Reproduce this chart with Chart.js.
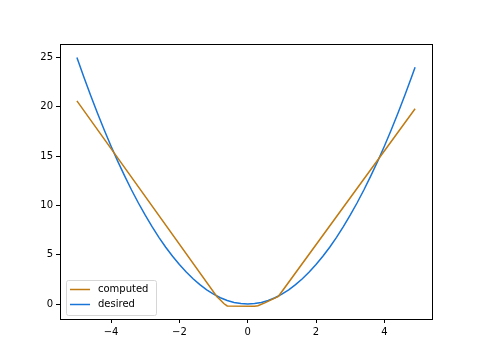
<!DOCTYPE html>
<html>
<head>
<meta charset="utf-8">
<script src="https://cdn.jsdelivr.net/npm/chart.js@4/dist/chart.umd.min.js"></script>
<style>
html,body{margin:0;padding:0;background:#fff;}
#wrap{width:480px;height:360px;}
</style>
</head>
<body>
<div id="wrap"><canvas id="c" width="480" height="360"></canvas></div>
<script>
const desiredX = [-5,-4.8,-4.6,-4.4,-4.2,-4,-3.8,-3.6,-3.4,-3.2,-3,-2.8,-2.6,-2.4,-2.2,-2,-1.8,-1.6,-1.4,-1.2,-1,-0.8,-0.6,-0.4,-0.2,0,0.2,0.4,0.6,0.8,1,1.2,1.4,1.6,1.8,2,2.2,2.4,2.6,2.8,3,3.2,3.4,3.6,3.8,4,4.2,4.4,4.6,4.8,4.9];
const desiredY = [25,23.04,21.16,19.36,17.64,16,14.44,12.96,11.56,10.24,9,7.84,6.76,5.76,4.84,4,3.24,2.56,1.96,1.44,1,0.64,0.36,0.16,0.04,0,0.04,0.16,0.36,0.64,1,1.44,1.96,2.56,3.24,4,4.84,5.76,6.76,7.84,9,10.24,11.56,12.96,14.44,16,17.64,19.36,21.16,23.04,24.01];
const computedX = [-5,-0.9,-0.8,-0.7,-0.6,0.2,0.3,0.5,0.7,0.9,4.9];
const computedY = [20.6,0.73,0.4,0.05,-0.2,-0.22,-0.18,0.12,0.45,0.78,19.8];
const xTicks = [-4,-2,0,2,4];
const yTicks = [0,5,10,15,20,25];
const seriesNames = ['computed','desired'];
const colors = ['#bf7a12','#1874d6'];

const toPts = (xs, ys) => xs.map((x,i)=>({x:x,y:ys[i]}));

const frame = {
  id:'frame',
  afterDatasetsDraw(chart){
    const {ctx, chartArea:a} = chart;
    ctx.save();
    ctx.strokeStyle='#000';
    ctx.lineWidth=1;
    ctx.strokeRect(Math.round(a.left)+0.5, Math.round(a.top)+0.5, Math.round(a.right-a.left), Math.round(a.bottom-a.top));
    // legend
    const lx=66, ly=280, lw=90, lh=35;
    ctx.fillStyle='rgba(255,255,255,0.8)';
    ctx.strokeStyle='#d6d6d6';
    ctx.beginPath();
    ctx.roundRect(lx+0.5,ly+0.5,lw,lh,2);
    ctx.fill(); ctx.stroke();
    ctx.font='10px "DejaVu Sans"';
    ctx.textBaseline='middle';
    seriesNames.forEach((n,i)=>{
      const y=ly+9.5+i*15;
      ctx.strokeStyle=colors[i]; ctx.lineWidth=1.5;
      ctx.beginPath(); ctx.moveTo(70,y); ctx.lineTo(90,y); ctx.stroke();
      ctx.fillStyle='#000';
      ctx.fillText(n,98,y);
    });
    ctx.restore();
  }
};

new Chart(document.getElementById('c'),{
  type:'scatter',
  data:{datasets:[
    {label:seriesNames[0],data:toPts(computedX,computedY),showLine:true,borderColor:colors[0],borderWidth:1.5,pointRadius:0,tension:0},
    {label:seriesNames[1],data:toPts(desiredX,desiredY),showLine:true,borderColor:colors[1],borderWidth:1.5,pointRadius:0,tension:0}
  ]},
  options:{
    responsive:false,animation:false,
    layout:{padding:{left:0,right:48,top:44,bottom:0}},
    plugins:{legend:{display:false},tooltip:{enabled:false}},
    scales:{
      x:{type:'linear',min:-5.495,max:5.395,
        afterBuildTicks(s){s.ticks=xTicks.map(v=>({value:v}));},
        afterFit(s){s.height=41;},
        grid:{drawOnChartArea:false,drawTicks:true,tickLength:4,tickColor:'#000',tickWidth:1},
        border:{display:false},
        ticks:{color:'#000',font:{family:'DejaVu Sans',size:10},padding:3,maxRotation:0,
          callback:v=>v<0?'\u2212'+Math.abs(v):String(v)}
      },
      y:{type:'linear',min:-1.52,max:26.36,
        afterBuildTicks(s){s.ticks=yTicks.map(v=>({value:v}));},
        afterFit(s){s.width=60;},
        grid:{drawOnChartArea:false,drawTicks:true,tickLength:4,tickColor:'#000',tickWidth:1},
        border:{display:false},
        ticks:{color:'#000',font:{family:'DejaVu Sans',size:10},padding:3,
          callback:v=>String(v)}
      }
    }
  },
  plugins:[frame]
});
</script>
</body>
</html>
